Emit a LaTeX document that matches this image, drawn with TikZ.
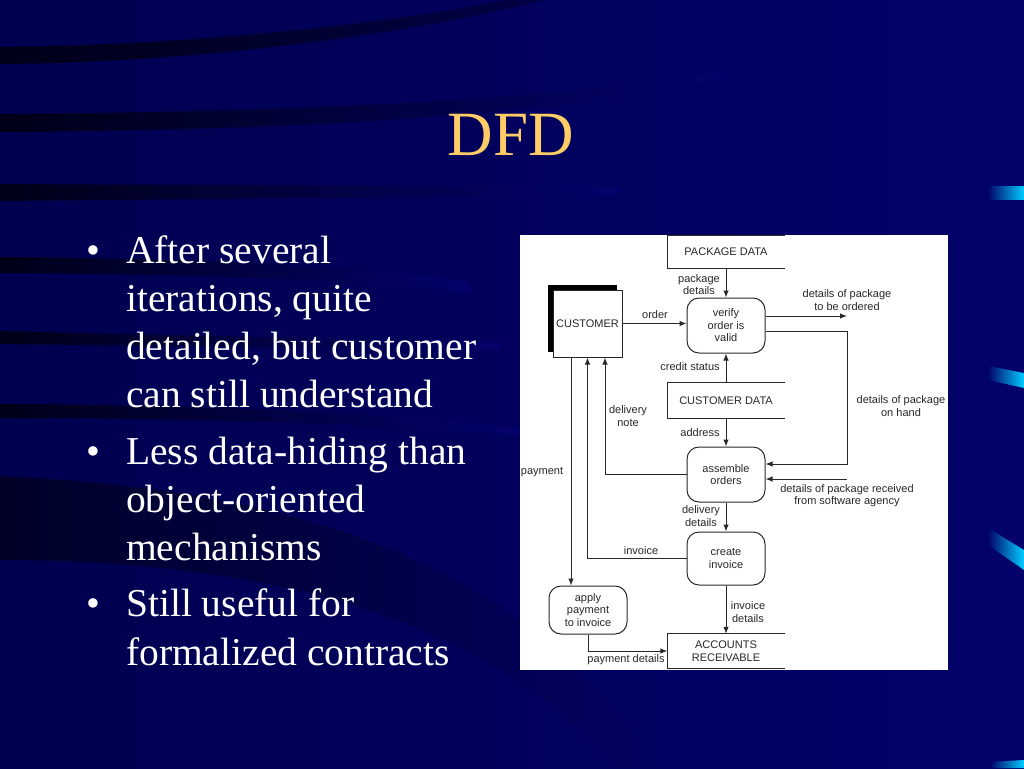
\documentclass[tikz,border=0pt]{standalone}
\usepackage{fontspec}
\setmainfont{Liberation Serif}
\newfontfamily\dfdfont{Liberation Sans}
\usetikzlibrary{arrows.meta,calc,shadows}
\definecolor{bg}{RGB}{2,2,106}
\definecolor{bgdark}{RGB}{0,0,80}
\definecolor{band}{RGB}{0,0,24}
\definecolor{titlecol}{RGB}{255,204,102}
\definecolor{markcyan}{RGB}{0,205,255}
\definecolor{ink}{RGB}{40,40,40}
\tikzset{
  dfdtext/.style={font=\dfdfont\fontsize{11}{12.5}\selectfont, text=ink},
  proc/.style={dfdtext, draw=ink, line width=1pt, rounded corners=12pt,
    minimum width=78pt, inner sep=0pt, align=center},
  storebox/.style={dfdtext, minimum width=117pt, inner sep=0pt, align=center},
  lbl/.style={dfdtext, align=center, inner sep=0pt},
  flow/.style={draw=ink, line width=1pt, -{Latex[length=7pt,width=5.5pt]}},
  plainline/.style={draw=ink, line width=1pt},
  bt/.style={text=white, anchor=base west, inner sep=0pt, font=\fontsize{39.5}{47}\selectfont},
  bdot/.style={text=white, anchor=base, inner sep=0pt, font=\fontsize{39.5}{47}\selectfont},
  bandshade/.style={left color=band, right color=bg},
  markshade/.style={left color=bg, right color=markcyan},
}
\begin{document}
\begin{tikzpicture}[x=1pt,y=-1pt]
\useasboundingbox (0,0) rectangle (1024,768);
% background
\shade[left color=bgdark, right color=bg] (0,0) rectangle (1024,768);
% dark swooshes
\shade[left color=band, right color=band!45!bg] (0,47) .. controls (200,45) and (400,22) .. (505,0) -- (545,0) .. controls (420,32) and (200,63) .. (0,64) -- cycle;
\shade[bandshade] (0,114) .. controls (300,112) and (550,100) .. (720,72) -- (728,78) .. controls (550,116) and (300,130) .. (0,132) -- cycle;
\shade[bandshade] (0,184) -- (620,187) -- (620,195) -- (0,201) -- cycle;
\shade[bandshade] (0,257) .. controls (200,258) and (350,265) .. (470,282) -- (470,292) .. controls (350,280) and (200,274) .. (0,273) -- cycle;
\shade[bandshade] (0,331) -- (500,343) -- (500,350) -- (0,344) -- cycle;
\shade[bandshade] (0,404) .. controls (200,405) and (380,412) .. (520,428) -- (520,436) .. controls (380,424) and (200,418) .. (0,418) -- cycle;
\shade[left color=band!80!bg, right color=band!12!bg] (0,476) .. controls (300,490) and (520,560) .. (660,768) -- (615,768) .. controls (490,615) and (260,560) .. (0,560) -- cycle;
% cyan marks
\shade[markshade] (988,186) -- (1024,186) -- (1024,199) -- (988,199) -- cycle;
\shade[markshade] (988,366) -- (1024,373) -- (1024,388) -- (988,380) -- cycle;
\shade[markshade] (988,528) -- (1024,550) -- (1024,570) -- (988,545) -- cycle;
\shade[markshade] (990,762) -- (1024,760) -- (1024,768) -- (990,768) -- cycle;

% title and bullets
\node[text=titlecol, anchor=base, inner sep=0pt, font=\fontsize{63}{70}\selectfont] (title) at (511,155) {DFD};
\node[bdot] (d1) at (93,263) {•};
\node[bt] (t11) at (126,263) {After several};
\node[bt] (t12) at (126,311) {iterations, quite};
\node[bt] (t13) at (126,359) {detailed, but customer};
\node[bt] (t14) at (126,407) {can still understand};
\node[bdot] (d2) at (93,464) {•};
\node[bt] (t21) at (126,464) {Less data-hiding than};
\node[bt] (t22) at (126,512) {object-oriented};
\node[bt] (t23) at (126,560) {mechanisms};
\node[bdot] (d3) at (93,616) {•};
\node[bt] (t31) at (126,616) {Still useful for};
\node[bt] (t32) at (126,665) {formalized contracts};

% diagram panel
\fill[white] (520,235) rectangle (948,670);

% data stores
\node[storebox, minimum height=32pt] (pkg) at (726,252) {PACKAGE DATA};
\draw[plainline] (pkg.north east) -- (pkg.north west) -- (pkg.south west) -- (pkg.south east);
\node[storebox, minimum height=35pt] (cdata) at (726,400.5) {CUSTOMER DATA};
\draw[plainline] (cdata.north east) -- (cdata.north west) -- (cdata.south west) -- (cdata.south east);
\node[storebox, minimum height=34pt] (ar) at (726,651) {ACCOUNTS\\RECEIVABLE};
\draw[plainline] (ar.north east) -- (ar.north west) -- (ar.south west) -- (ar.south east);

% external entity
\node[dfdtext, draw=ink, fill=white, line width=1pt, minimum width=69pt, minimum height=67pt, inner sep=0pt,
  general shadow={fill=black, shadow xshift=-5pt, shadow yshift=5pt}] (cust) at (587.5,323.5) {CUSTOMER};

% processes
\node[proc, minimum height=55pt] (verify) at (726,325.5) {verify\\order is\\valid};
\node[proc, minimum height=55pt] (assemble) at (726,474.5) {assemble\\orders};
\node[proc, minimum height=53pt] (create) at (726,558.5) {create\\invoice};
\node[proc, minimum height=48pt] (apply) at (588,610) {apply\\payment\\to invoice};

% flows
\draw[flow] (pkg.south) -- (verify.north);
\draw[flow] (cust.east) -- (cust.east -| verify.west);
\coordinate (tbo) at (847,316);
\draw[flow] (verify.east |- tbo) -- (tbo);
\coordinate (oh) at (847,331);
\draw[flow] (verify.east |- oh) -- (oh) |- ([yshift=10.5pt]assemble.east);
\coordinate (sw) at (847,479);
\draw[flow] (sw) -- (sw -| assemble.east);
\draw[flow] (cdata.north) -- (verify.south);
\draw[flow] (cdata.south) -- (assemble.north);
\draw[flow] (assemble.west) -| ([xshift=17.5pt]cust.south);
\draw[flow] (assemble.south) -- (create.north);
\draw[flow] (create.west) -| (cust.south);
\coordinate (pay) at ([xshift=-16.5pt]cust.south);
\draw[flow] (pay) -- (pay |- apply.north);
\draw[flow] (create.south) -- (ar.north);
\draw[flow] (apply.south) |- (ar.west);

% flow labels
\node[lbl] (lpkg) at (699,284.5) {package\\details};
\node[lbl] (lorder) at (655,315) {order};
\node[lbl] (ltbo) at (847,300) {details of package\\to be ordered};
\node[lbl] (loh) at (901,406) {details of package\\on hand};
\node[lbl] (lsw) at (847,495.5) {details of package received\\from software agency};
\node[lbl] (lcredit) at (690,367) {credit status};
\node[lbl] (laddr) at (700,433) {address};
\node[lbl] (ldnote) at (628,416) {delivery\\note};
\node[lbl] (lddet) at (701,516) {delivery\\details};
\node[lbl] (linv) at (641,551) {invoice};
\node[lbl] (lpay) at (542,472) {payment};
\node[lbl] (linvdet) at (748,612) {invoice\\details};
\node[lbl] (lpaydet) at (626,660) {payment details};
\end{tikzpicture}
\end{document}
